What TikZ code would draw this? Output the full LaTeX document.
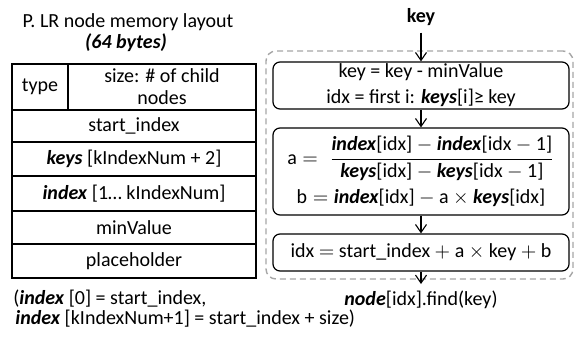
\documentclass[tikz,border=0pt]{standalone}
\usepackage{fontspec}
\setmainfont{Carlito}
\usepackage{amsmath}
\usetikzlibrary{arrows.meta}
\definecolor{dashgray}{HTML}{A6A6A6}
\newcommand{\bi}[1]{\textbf{\textit{#1}}}
\begin{document}
\begin{tikzpicture}[x=0.5pt,y=-0.5pt,
  every node/.style={font=\fontsize{10}{12}\selectfont, text=black},
  cell/.style={draw=black, line width=0.6pt, inner sep=0pt, minimum width=122pt, align=center},
  procbox/.style={draw=black, line width=0.6pt, rounded corners=3.5pt, inner sep=0pt, minimum width=148pt, align=center},
  flow/.style={line width=0.55pt, -{Straight Barb[length=4pt,width=5.5pt]}},
  grp/.style={draw=dashgray, line width=0.7pt, dash pattern=on 3pt off 2pt, rounded corners=5pt}
]
\useasboundingbox (0,0) rectangle (582,337);

% left: title
\node (title) at (128,22) {P. LR node memory layout};
\node (bytes) at (126,43) {\bi{(64 bytes)}};

% table
\node[cell, minimum width=28pt, minimum height=23pt] (type) at (40,87) {type};
\node[cell, minimum width=94pt, minimum height=23pt] (size) at (162,87) {size: \# of child\\[-1pt]nodes};
\node[cell, minimum height=16pt] (start) at (134,126) {start\_index};
\node[cell, minimum height=17pt] (keys) at (134,159) {\bi{keys} [kIndexNum + 2]};
\node[cell, minimum height=17.5pt] (index) at (134,193.5) {\bi{index} [1… kIndexNum]};
\node[cell, minimum height=16.5pt] (minv) at (134,227.5) {minValue};
\node[cell, minimum height=17pt] (place) at (134,261) {placeholder};

% notes
\node[anchor=west, inner sep=0pt] (note1) at (13,299) {(\bi{index} [0] = start\_index,};
\node[anchor=west, inner sep=0pt] (note2) at (15,319) {\bi{index} [kIndexNum+1] = start\_index + size)};

% right: dashed group
\node[grp, minimum width=153.5pt, minimum height=114pt, inner sep=0pt] (group) at (419.5,165) {};

\node (key) at (421,17) {\textbf{key}};
\node[procbox, minimum height=23.5pt] (b1) at (421,85.5) {key = key - minValue\\[1pt]idx = first i: \bi{keys}[i]≥ key};
\node[procbox, minimum height=43.5pt] (b2) at (421,171.5) {%
  $\text{a} = \;\dfrac{\text{\bi{index}[idx]} - \text{\bi{index}[idx} - \text{1]}}{\text{\bi{keys}[idx]} - \text{\bi{keys}[idx} - \text{1]}}$\\[3pt]
  $\text{b} = \text{\bi{index}[idx]} - \text{a} \times \text{\bi{keys}[idx]}$};
\node[procbox, minimum height=18.5pt] (b3) at (421,252.5) {idx $=$ start\_index $+$ a $\times$ key $+$ b};
\node (find) at (421,300) {\bi{node}[idx].find(key)};

\draw[flow] (key) -- (b1);
\draw[flow] (b1) -- (b2);
\draw[flow] (b2) -- (b3);
\draw[flow] (b3) -- (find);
\end{tikzpicture}
\end{document}
